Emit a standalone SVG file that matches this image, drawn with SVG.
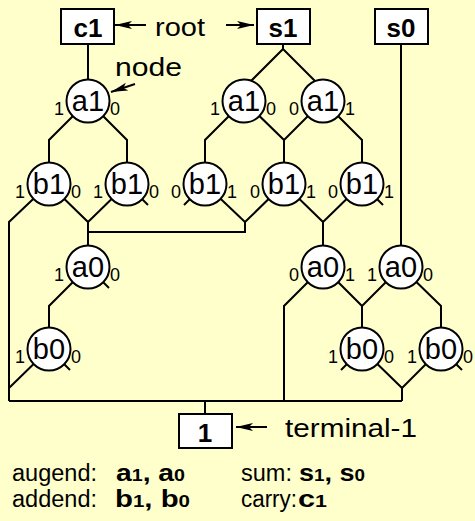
<svg xmlns="http://www.w3.org/2000/svg" width="475" height="521" viewBox="0 0 475 521">
<style>
text{font-family:"Liberation Sans",Arial,Helvetica,sans-serif;fill:#000}
.ln{fill:none;stroke:#000;stroke-width:2;stroke-linejoin:miter}
.nd{fill:#fff;stroke:#000;stroke-width:2}
.bx{fill:#fff;stroke:#000;stroke-width:2}
.nt{font-size:29px;text-anchor:middle}
.lb{font-size:18px}
.le{text-anchor:end}
.bt{font-size:26px;font-weight:bold;text-anchor:middle}
.an{font-size:25px}
.ft{font-size:23px}
.b{font-weight:bold}
.sm{font-size:16px}
</style>
<defs>
<marker id="ah" markerUnits="userSpaceOnUse" markerWidth="18" markerHeight="10" refX="17" refY="5" orient="auto">
<path d="M0,1 L17,5 L0,9 L4,5 z" fill="#000"/>
</marker>
</defs>
<rect width="475" height="521" fill="#FFFFCC"/>
<g id="connectors">
<path class="ln" d="M88,44 V101"/>
<path class="ln" d="M88,101 L49,140 V184"/>
<path class="ln" d="M88,101 L127,140 V184"/>
<path class="ln" d="M248,84 L283,49 V44 M283,49 L318,84"/>
<path class="ln" d="M244,101 L205,140 V184"/>
<path class="ln" d="M244,101 L284,140 V184"/>
<path class="ln" d="M323,101 L284,140"/>
<path class="ln" d="M323,101 L362,140 V184"/>
<path class="ln" d="M401,44 V267"/>
<path class="ln" d="M49,184 L9,222 V401"/>
<path class="ln" d="M49,184 L88,222 V267"/>
<path class="ln" d="M127,184 L88,222"/>
<path class="ln" d="M88,232 H245 V222"/>
<path class="ln" d="M205,184 L245,222"/>
<path class="ln" d="M284,184 L245,222"/>
<path class="ln" d="M284,184 L323,222 V267"/>
<path class="ln" d="M362,184 L323,222"/>
<path class="ln" d="M88,267 L49,306 V349"/>
<path class="ln" d="M49,349 L9,388"/>
<path class="ln" d="M323,267 L284,306 V401"/>
<path class="ln" d="M323,267 L362,306 V349"/>
<path class="ln" d="M401,267 L362,306"/>
<path class="ln" d="M401,267 L441,306 V349"/>
<path class="ln" d="M362,349 L402,388 V401"/>
<path class="ln" d="M441,349 L402,388"/>
<path class="ln" d="M9,401 H402"/>
<path class="ln" d="M205,401 V414"/>
<path class="ln" d="M127,184 L148,205"/>
<path class="ln" d="M205,184 L184,205"/>
<path class="ln" d="M362,184 L383,205"/>
<path class="ln" d="M88,267 L109,288"/>
<path class="ln" d="M49,349 L70,370"/>
<path class="ln" d="M362,349 L341,370"/>
<path class="ln" d="M441,349 L462,370"/>
<path class="ln" d="M146,25 L115,25" marker-end="url(#ah)"/>
<path class="ln" d="M226,25 L254,25" marker-end="url(#ah)"/>
<path class="ln" d="M135,84 L111,92" marker-end="url(#ah)"/>
<path class="ln" d="M267,427 L236,427" marker-end="url(#ah)"/>
</g>
<g id="box-c1"><rect class="bx" x="61" y="9" width="53" height="35"/><text class="bt" x="88" y="37">c1</text></g>
<g id="box-s1"><rect class="bx" x="257" y="9" width="53" height="35"/><text class="bt" x="283" y="37">s1</text></g>
<g id="box-s0"><rect class="bx" x="375" y="9" width="53" height="35"/><text class="bt" x="401" y="37">s0</text></g>
<g id="box-1"><rect class="bx" x="179" y="414" width="53" height="34"/><text class="bt" x="205" y="442">1</text></g>
<g id="lbl-root"><text class="an" x="155" y="36" textLength="50" lengthAdjust="spacingAndGlyphs">root</text></g>
<g id="lbl-node"><text class="an" x="115" y="76" textLength="67" lengthAdjust="spacingAndGlyphs">node</text></g>
<g id="lbl-terminal"><text class="an" x="285" y="437" textLength="132" lengthAdjust="spacingAndGlyphs">terminal-1</text></g>

<g id="n-a1-88"><circle class="nd" cx="88" cy="101" r="21.5"/><text class="nt" x="88" y="111">a1</text><text class="lb le" x="64" y="115">1</text><text class="lb" x="110" y="115">0</text></g>
<g id="n-a1-244"><circle class="nd" cx="244" cy="101" r="21.5"/><text class="nt" x="244" y="111">a1</text><text class="lb le" x="220" y="115">1</text><text class="lb" x="266" y="115">0</text></g>
<g id="n-a1-323"><circle class="nd" cx="323" cy="101" r="21.5"/><text class="nt" x="323" y="111">a1</text><text class="lb le" x="299" y="115">0</text><text class="lb" x="345" y="115">1</text></g>

<g id="n-b1-49"><circle class="nd" cx="49" cy="184" r="21.5"/><text class="nt" x="49" y="194">b1</text><text class="lb le" x="25" y="198">1</text><text class="lb" x="71" y="198">0</text></g>
<g id="n-b1-127"><circle class="nd" cx="127" cy="184" r="21.5"/><text class="nt" x="127" y="194">b1</text><text class="lb le" x="103" y="198">1</text><text class="lb" x="149" y="198">0</text></g>
<g id="n-b1-205"><circle class="nd" cx="205" cy="184" r="21.5"/><text class="nt" x="205" y="194">b1</text><text class="lb le" x="181" y="198">0</text><text class="lb" x="227" y="198">1</text></g>
<g id="n-b1-284"><circle class="nd" cx="284" cy="184" r="21.5"/><text class="nt" x="284" y="194">b1</text><text class="lb le" x="260" y="198">0</text><text class="lb" x="306" y="198">1</text></g>
<g id="n-b1-362"><circle class="nd" cx="362" cy="184" r="21.5"/><text class="nt" x="362" y="194">b1</text><text class="lb le" x="338" y="198">0</text><text class="lb" x="384" y="198">1</text></g>

<g id="n-a0-88"><circle class="nd" cx="88" cy="267" r="21.5"/><text class="nt" x="88" y="277">a0</text><text class="lb le" x="64" y="281">1</text><text class="lb" x="110" y="281">0</text></g>
<g id="n-a0-323"><circle class="nd" cx="323" cy="267" r="21.5"/><text class="nt" x="323" y="277">a0</text><text class="lb le" x="299" y="281">0</text><text class="lb" x="345" y="281">1</text></g>
<g id="n-a0-401"><circle class="nd" cx="401" cy="267" r="21.5"/><text class="nt" x="401" y="277">a0</text><text class="lb le" x="377" y="281">1</text><text class="lb" x="423" y="281">0</text></g>

<g id="n-b0-49"><circle class="nd" cx="49" cy="349" r="21.5"/><text class="nt" x="49" y="359">b0</text><text class="lb le" x="25" y="363">1</text><text class="lb" x="71" y="363">0</text></g>
<g id="n-b0-362"><circle class="nd" cx="362" cy="349" r="21.5"/><text class="nt" x="362" y="359">b0</text><text class="lb le" x="338" y="363">1</text><text class="lb" x="384" y="363">0</text></g>
<g id="n-b0-441"><circle class="nd" cx="441" cy="349" r="21.5"/><text class="nt" x="441" y="359">b0</text><text class="lb le" x="417" y="363">1</text><text class="lb" x="463" y="363">0</text></g>

<g id="legend">
<text class="ft" x="12" y="481" textLength="85" lengthAdjust="spacingAndGlyphs">augend:</text>
<text class="ft b" x="116" y="481" textLength="69" lengthAdjust="spacingAndGlyphs">a<tspan class="sm">1</tspan>, a<tspan class="sm">0</tspan></text>
<text class="ft" x="12" y="507" textLength="85" lengthAdjust="spacingAndGlyphs">addend:</text>
<text class="ft b" x="115" y="507" textLength="75" lengthAdjust="spacingAndGlyphs">b<tspan class="sm">1</tspan>, b<tspan class="sm">0</tspan></text>
<text class="ft" x="241" y="481" textLength="51" lengthAdjust="spacingAndGlyphs">sum:</text>
<text class="ft b" x="299" y="481" textLength="66" lengthAdjust="spacingAndGlyphs">s<tspan class="sm">1</tspan>, s<tspan class="sm">0</tspan></text>
<text class="ft" x="241" y="507" textLength="56" lengthAdjust="spacingAndGlyphs">carry:</text>
<text class="ft b" x="298" y="507" textLength="29" lengthAdjust="spacingAndGlyphs">c<tspan class="sm">1</tspan></text>
</g>
</svg>
